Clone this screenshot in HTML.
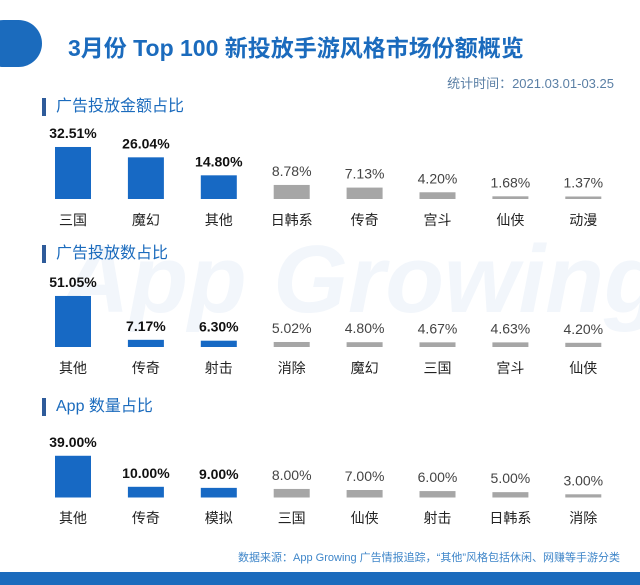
<!DOCTYPE html>
<html><head><meta charset="utf-8">
<style>
body{margin:0;width:640px;height:585px;background:#fff;overflow:hidden;position:relative;font-family:"Liberation Sans","Noto Sans CJK SC",sans-serif;}
.abs{position:absolute;}
.title{left:68px;top:29px;font-size:23px;font-weight:bold;color:#1b6bbd;white-space:nowrap;}
.pill{left:-20px;top:20px;width:62px;height:47px;background:#1b6bbd;border-radius:24px;}
.date{right:26px;top:73px;font-size:13px;color:#5a7fa5;}
.sec{left:42px;font-size:16px;color:#1b6bbd;padding-left:10px;border-left:4px solid #2e5b9a;line-height:18px;}
.foot{right:20px;top:549px;font-size:11px;color:#3f86c9;}
.band{left:0;top:572px;width:640px;height:13px;background:#1b6bbd;}
.wm{left:60px;top:225px;font-size:96px;font-style:italic;font-weight:bold;color:#f2f6fb;white-space:nowrap;}
svg{position:absolute;left:0;top:0}
</style></head><body>
<div class="abs wm">App Growing</div>
<div class="abs pill"></div>
<div class="abs title">3月份 Top 100 新投放手游风格市场份额概览</div>
<div class="abs date">统计时间：2021.03.01-03.25</div>
<div class="abs sec" style="top:98px">广告投放金额占比</div>
<div class="abs sec" style="top:245px">广告投放数占比</div>
<div class="abs sec" style="top:398px">App 数量占比</div>
<div class="abs foot">数据来源：App Growing 广告情报追踪，“其他”风格包括休闲、网赚等手游分类</div>
<div class="abs band"></div>
<svg id="chart" width="640" height="585"></svg>
<script>
const cats1=["三国","魔幻","其他","日韩系","传奇","宫斗","仙侠","动漫"];
const vals1=[32.51,26.04,14.80,8.78,7.13,4.20,1.68,1.37];
const cats2=["其他","传奇","射击","消除","魔幻","三国","宫斗","仙侠"];
const vals2=[51.05,7.17,6.30,5.02,4.80,4.67,4.63,4.20];
const cats3=["其他","传奇","模拟","三国","仙侠","射击","日韩系","消除"];
const vals3=[39.00,10.00,9.00,8.00,7.00,6.00,5.00,3.00];
const svg=document.getElementById('chart');
const NS="http://www.w3.org/2000/svg";
function xc(i){return 73+i*72.9;}
function draw(cats,vals,base,scale,catY,key){
  cats.forEach((c,i)=>{
    const h=Math.max(vals[i]*scale,2.5);
    const blue=i<3;
    const r=document.createElementNS(NS,'rect');
    r.setAttribute('x',xc(i)-18);r.setAttribute('y',base-h);
    r.setAttribute('width',36);r.setAttribute('height',h);
    r.setAttribute('fill',blue?'#1769c4':'#a6a6a6');
    
    
    svg.appendChild(r);
    const t=document.createElementNS(NS,'text');
    t.setAttribute('x',xc(i));t.setAttribute('y',base-h-9);
    t.setAttribute('text-anchor','middle');t.setAttribute('font-size','14');
    t.setAttribute('fill',blue?'#111':'#444');
    if(blue)t.setAttribute('font-weight','bold');
    t.textContent=vals[i].toFixed(2)+'%';
    
    
    svg.appendChild(t);
    const l=document.createElementNS(NS,'text');
    l.setAttribute('x',xc(i));l.setAttribute('y',catY);
    l.setAttribute('text-anchor','middle');l.setAttribute('font-size','14');
    l.setAttribute('fill','#222');
    l.setAttribute('font-family','"Liberation Sans","Noto Sans CJK SC",sans-serif');
    l.textContent=c;
    
    
    svg.appendChild(l);
  });
}
draw(cats1,vals1,199,1.6,225,'spend');
draw(cats2,vals2,347,1.0,373,'count');
draw(cats3,vals3,497.5,1.07,523,'apps');
</script>
</body></html>
